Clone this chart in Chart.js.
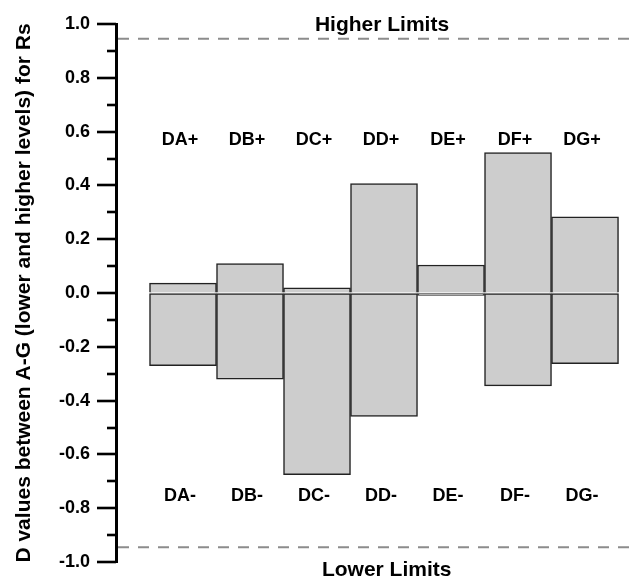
<!DOCTYPE html>
<html>
<head>
<meta charset="utf-8">
<script src="https://cdn.jsdelivr.net/npm/chart.js@4/dist/chart.umd.min.js"></script>
<style>
html,body{margin:0;padding:0;background:#fff;}
#wrap{width:634px;height:580px;position:relative;}
</style>
</head>
<body>
<div id="wrap"><canvas id="c"></canvas></div>
<script>
// data
const categories = ['DA','DB','DC','DD','DE','DF','DG'];
const higherValues = [0.037, 0.109, 0.019, 0.407, 0.104, 0.522, 0.283];
const lowerValues = [-0.270, -0.320, -0.675, -0.459, -0.009, -0.345, -0.263];
const limitValue = 0.945;
const yTicksMajor = [-1.0, -0.8, -0.6, -0.4, -0.2, 0.0, 0.2, 0.4, 0.6, 0.8, 1.0];

const FONT = '"Liberation Sans", Arial, Helvetica, sans-serif';
const BAR_FILL = '#cdcdcd', BAR_EDGE = '#222';

function toPoints(vals){ return vals.map((v,i)=>({x:i+1, y:v})); }

// tick marks (long for majors, short for minors), limit lines, in-plot text
const decor = {
  id:'decor',
  beforeDatasetsDraw(chart){
    const {ctx, chartArea:a, scales:{y}} = chart;
    ctx.save();
    ctx.strokeStyle = '#8c8c8c'; ctx.lineWidth = 2; ctx.setLineDash([11,9]);
    [limitValue, -limitValue].forEach(v=>{
      const py = y.getPixelForValue(v);
      ctx.beginPath(); ctx.moveTo(a.left+2, py); ctx.lineTo(a.right, py); ctx.stroke();
    });
    ctx.restore();
  },
  afterDraw(chart){
    const {ctx, chartArea:a, scales:{x,y}} = chart;
    ctx.save();
    ctx.strokeStyle = '#000'; ctx.lineWidth = 2.6;
    y.ticks.forEach(t=>{
      const major = yTicksMajor.some(m=>Math.abs(m-t.value)<1e-6);
      const py = Math.round(y.getPixelForValue(t.value));
      ctx.beginPath(); ctx.moveTo(a.left-(major?19:9), py); ctx.lineTo(a.left, py); ctx.stroke();
    });
    ctx.fillStyle = '#000'; ctx.textBaseline = 'middle'; ctx.textAlign = 'center';
    ctx.font = 'bold 18px ' + FONT;
    categories.forEach((c,i)=>{
      const px = x.getPixelForValue(i+1) - 3;
      ctx.fillText(c+'+', px, y.getPixelForValue(0.57));
      ctx.fillText(c+'-', px, y.getPixelForValue(-0.755));
    });
    ctx.font = 'bold 21px ' + FONT;
    ctx.fillText('Higher Limits', x.getPixelForValue(3.97), y.getPixelForValue(0.997));
    ctx.fillText('Lower Limits', x.getPixelForValue(4.04), y.getPixelForValue(-1.031));
    ctx.restore();
  }
};

const barStyle = { backgroundColor: BAR_FILL, borderColor: BAR_EDGE, borderWidth: 1.5, barPercentage: 1, categoryPercentage: 1 };

new Chart(document.getElementById('c'), {
  type: 'bar',
  data: { datasets: [
    // upper bars skip their base edge so the zero line is a single stroke
    Object.assign({label:'higher', data: toPoints(higherValues), borderSkipped:'start'}, barStyle),
    Object.assign({label:'lower', data: toPoints(lowerValues), borderSkipped:false}, barStyle)
  ]},
  options: {
    responsive: true, maintainAspectRatio: false, animation: false,
    layout: { padding: { top: 24, bottom: 18, left: 0, right: 0 } },
    plugins: { legend: {display:false}, tooltip: {enabled:false} },
    scales: {
      x: { type:'linear', display:false, offset:false, stacked:true, min:0, max:7.731, ticks:{stepSize:1, includeBounds:false} },
      y: {
        min:-1, max:1, stacked:true,
        afterFit: s => { s.width = 116; },
        border: { display:true, color:'#000', width:3 },
        // invisible tick marks just push the labels left; real marks drawn in decor
        grid: { display:true, drawOnChartArea:false, drawTicks:true, tickLength:22, tickColor:'rgba(0,0,0,0)' },
        ticks: {
          stepSize:0.1, autoSkip:false, padding:4, color:'#000',
          font:{ family:FONT, size:18, weight:'bold' },
          callback: v => yTicksMajor.some(m=>Math.abs(m-v)<1e-6) ? v.toFixed(1) : ''
        },
        title: {
          display:true, text:'D values between A-G (lower and higher levels) for Rs',
          color:'#000', padding:{top:12, bottom:0},
          font:{ family:FONT, size:21, weight:'bold' }
        }
      }
    }
  },
  plugins: [decor]
});
</script>
</body>
</html>
